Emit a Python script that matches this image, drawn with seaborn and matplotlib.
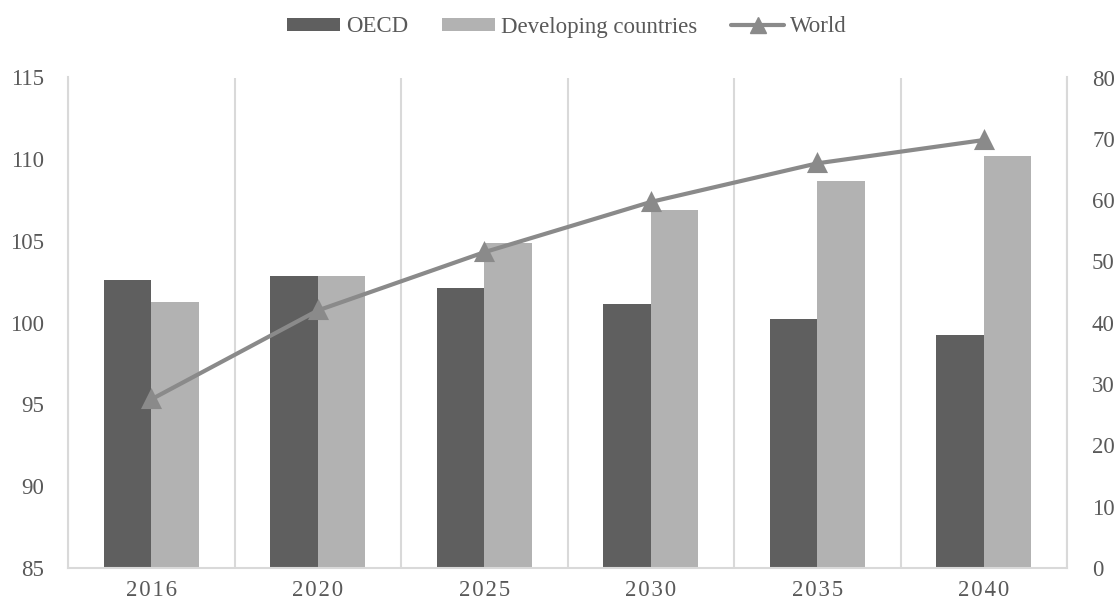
import numpy as np
import pandas as pd
import matplotlib
matplotlib.use("Agg")
import matplotlib.pyplot as plt
from matplotlib.patches import Patch
from matplotlib.lines import Line2D
import seaborn as sns

# Data
years = ["2016", "2020", "2025", "2030", "2035", "2040"]
oecd = [102.6, 102.85, 102.1, 101.15, 100.2, 99.25]
developing = [101.25, 102.85, 104.85, 106.9, 108.7, 110.2]
world = [27.5, 42.0, 51.5, 59.7, 66.0, 69.8]
left_ticks = [85, 90, 95, 100, 105, 110, 115]
right_ticks = [0, 10, 20, 30, 40, 50, 60, 70, 80]

series_names = ["OECD", "Developing countries"]
df = pd.DataFrame({
    "year": years * 2,
    "group": [series_names[0]] * len(years) + [series_names[1]] * len(years),
    "value": oecd + developing,
})

C_OECD = "#5f5f5f"
C_DEV = "#b2b2b2"
C_WORLD = "#8a8a8a"
C_AXIS = "#d9d9d9"
C_TEXT = "#595959"
FS = 16.5

sns.set_theme(style="white")
plt.rcParams["font.family"] = ["Liberation Serif", "DejaVu Serif"]

fig = plt.figure(figsize=(11.17, 6.03), dpi=100)
ax = fig.add_axes([68 / 1117, 1 - 568 / 603, (1067 - 68) / 1117, (568 - 77.5) / 603])

sns.barplot(data=df, x="year", y="value", hue="group", order=years,
            hue_order=series_names, palette=[C_OECD, C_DEV], width=0.57,
            gap=0, saturation=1, linewidth=0, legend=False, ax=ax, zorder=2)

ax.set_ylim(85, 115)
ax.set_yticks(left_ticks)
ax.set_xlim(-0.5, len(years) - 0.5)
ax.set_xticks(np.arange(-0.5, len(years), 1), minor=True)
ax.grid(which="minor", axis="x", color=C_AXIS, linewidth=1.5)
ax.grid(which="major", visible=False)
ax.set_axisbelow(True)
ax.set_xlabel("")
ax.set_ylabel("")
for side in ["left", "bottom", "right"]:
    ax.spines[side].set_visible(True)
    ax.spines[side].set_color(C_AXIS)
    ax.spines[side].set_linewidth(1.5)
ax.spines["top"].set_visible(False)
ax.tick_params(axis="y", which="both", length=0, pad=17, labelsize=FS, labelcolor=C_TEXT)
ax.tick_params(axis="x", which="both", length=0, pad=9, labelsize=FS, labelcolor=C_TEXT)
ax.set_xticks(range(len(years)))
# year labels drawn with a little letter spacing
ax.set_xticklabels(["\u200a".join(y) for y in years])

# World series on the secondary axis
ax2 = ax.twinx()
sns.pointplot(x=years, y=world, order=years, color=C_WORLD, markers="^",
              linestyles="-", errorbar=None, ax=ax2,
              markersize=12, linewidth=3)
ax2.set_ylim(0, 80)
ax2.set_yticks(right_ticks)
ax2.set_xlim(-0.5, len(years) - 0.5)
ax2.set_ylabel("")
ax2.set_xlabel("")
for side in ax2.spines:
    ax2.spines[side].set_visible(False)
ax2.grid(False)
ax2.tick_params(axis="y", length=0, pad=18, labelsize=FS, labelcolor=C_TEXT)

# Legend
handles = [
    Patch(facecolor=C_OECD, edgecolor="none"),
    Patch(facecolor=C_DEV, edgecolor="none"),
    Line2D([], [], color=C_WORLD, linewidth=3, marker="^", markersize=11),
]
labels = ["OECD", "Developing countries", "World"]
fig.legend(handles, labels, loc="center", bbox_to_anchor=(567 / 1117, 1 - 27 / 603),
           ncol=3, frameon=False, fontsize=FS, labelcolor=C_TEXT,
           handlelength=2.3, handleheight=0.47, handletextpad=0.25,
           columnspacing=1.5)

fig.savefig("out.png", dpi=100)
